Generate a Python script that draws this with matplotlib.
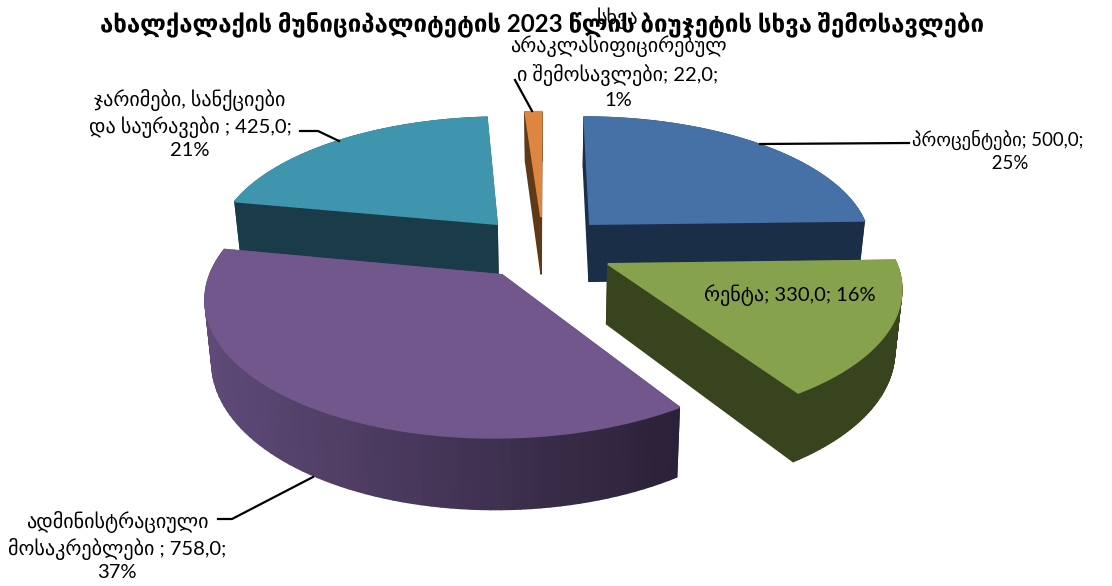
import numpy as np
import matplotlib
matplotlib.use('Agg')
import matplotlib.pyplot as plt
from matplotlib.collections import PolyCollection
from matplotlib.colors import to_rgb

plt.rcParams['font.family'] = ['Lato', 'DejaVu Sans']

title = 'ახალქალაქის მუნიციპალიტეტის 2023 წლის ბიუჯეტის სხვა შემოსავლები'
categories = ['პროცენტები', 'რენტა', 'ადმინისტრაციული მოსაკრებლები',
              'ჯარიმები, სანქციები და საურავები', 'სხვა არაკლასიფიცირებული შემოსავლები']
values = np.array([500.0, 330.0, 758.0, 425.0, 22.0])
label_texts = ['პროცენტები; 500,0;\n     25%',
               'რენტა; 330,0; 16%',
               'ადმინისტრაციული\nმოსაკრებლები ; 758,0;\n37%',
               'ჯარიმები, სანქციები\nდა საურავები ; 425,0;\n21%',
               'სხვა\nარაკლასიფიცირებულ\nი შემოსავლები; 22,0;\n1%']
top_colors = ['#4571A6', '#87A24D', '#72578C', '#3F95AE', '#DE8640']
side_left = ['#1B2E47', '#38441D', '#5F4A78', '#1A3C48', '#5E3A19']
side_right = ['#1B2E47', '#38441D', '#2B2138', '#1A3C48', '#5E3A19']

# tip of each exploded slice on the picture, px
apex_px = [(590, 224), (608, 264), (502, 275), (497, 224), (541, 217)]
draw_order = [4, 3, 0, 1, 2]

# perspective of the tilted disc
CX, CY = 545, 250
F, G, P = 284, 130, 0.15
HEIGHT = 59
BOTTOM_SHRINK = 0.98


def project(u, v):
    d = 1 + P * v
    return CX + F * u / d, CY - G * v / d


def unproject(x, y):
    v = (CY - y) / (G - P * (CY - y))
    u = (x - CX) * (1 + P * v) / F
    return u, v


def lower(x, y, v):
    # same outline on the underside of the slab
    return CX + (x - CX) * BOTTOM_SHRINK, y + HEIGHT / (1 + P * v)


edges = np.concatenate([[0], np.cumsum(values)]) / values.sum() * 2 * np.pi

fig = plt.figure(figsize=(11.12, 5.86), dpi=100)
ax = fig.add_axes([0, 0, 1, 1])
ax.set_xlim(0, 1112)
ax.set_ylim(586, 0)
ax.axis('off')

for i in draw_order:
    u0, v0 = unproject(*apex_px[i])
    theta = np.linspace(edges[i], edges[i + 1], 80)
    u = np.concatenate([[u0], u0 + np.sin(theta)])
    v = np.concatenate([[v0], v0 + np.cos(theta)])
    x, y = project(u, v)
    xb, yb = lower(x, y, v)

    # side walls, one quad per outline step, shaded left to right
    quads, colors = [], []
    c0, c1 = np.array(to_rgb(side_left[i])), np.array(to_rgb(side_right[i]))
    for k in range(len(x)):
        n = (k + 1) % len(x)
        quads.append([(x[k], y[k]), (x[n], y[n]), (xb[n], yb[n]), (xb[k], yb[k])])
        t = np.clip((x[k] - x.min()) / (x.max() - x.min()), 0, 1)
        colors.append(c0 + (c1 - c0) * t)
    ax.add_collection(PolyCollection(quads, facecolors=colors, edgecolors=colors, linewidths=1.2))
    # edge in the top colour hides the wall strokes along the rim
    ax.fill(x, y, facecolor=top_colors[i], edgecolor=top_colors[i], lw=1.4)

# leader lines
ax.plot([909, 760], [143, 144], color='black', lw=1.6)
ax.plot([515, 532], [80, 111], color='black', lw=1.6)
ax.plot([300, 318, 339], [131, 131, 141], color='black', lw=1.6)
ax.plot([218, 232, 313], [519, 519, 477], color='black', lw=1.6)

fs = 14.5
ax.text(998, 151, label_texts[0], ha='center', va='center', fontsize=13.4, linespacing=1.4)
ax.text(790, 295, label_texts[1], ha='center', va='center', fontsize=fs)
ax.text(117, 546, label_texts[2], ha='center', va='center', fontsize=fs, linespacing=1.3)
ax.text(190, 124, label_texts[3], ha='center', va='center', fontsize=fs, linespacing=1.3)
ax.text(618, 58, label_texts[4], ha='center', va='center', fontsize=fs, linespacing=1.4)

ax.text(542, 24, title, ha='center', va='center', fontsize=17.3, fontweight='bold')

fig.savefig('out.png', dpi=100)
